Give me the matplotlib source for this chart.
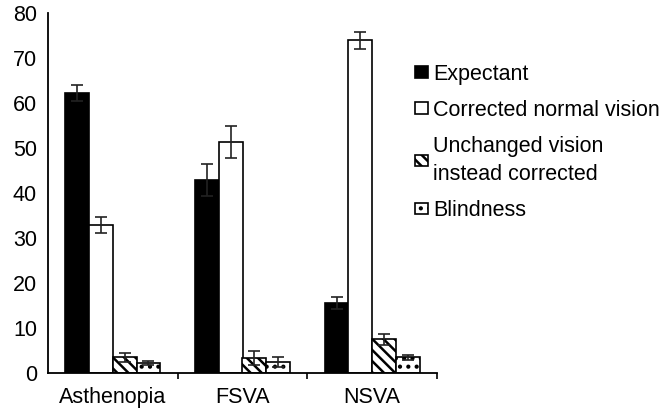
import numpy as np
import matplotlib
matplotlib.use("Agg")
import matplotlib.pyplot as plt
from matplotlib.patches import Patch

plt.rcParams['font.family'] = ['Liberation Sans', 'DejaVu Sans']
plt.rcParams['hatch.linewidth'] = 1.8

# data
groups = ["Asthenopia", "FSVA", "NSVA"]
series = ["Expectant", "Corrected normal vision",
          "Unchanged vision\ninstead corrected", "Blindness"]
expectant = [62.2, 42.8, 15.5]
expectant_err = [1.8, 3.5, 1.4]
corrected = [32.8, 51.3, 73.9]
corrected_err = [1.7, 3.5, 1.9]
unchanged = [3.4, 3.3, 7.4]
unchanged_err = [1.0, 1.5, 1.2]
blindness = [2.1, 2.4, 3.4]
blindness_err = [0.4, 1.1, 0.6]

vals = [expectant, corrected, unchanged, blindness]
errs = [expectant_err, corrected_err, unchanged_err, blindness_err]
faces = ["black", "white", "white", "white"]
hatches = [None, None, "\\\\\\", ".."]

fig = plt.figure(figsize=(6.68, 4.18), dpi=100)
ax = fig.add_axes([48/668, (418-372.7)/418, (437-48)/668, 360/418])

x = np.arange(len(groups))
w = 0.183
for i in range(4):
    ax.bar(x + (i - 1.5)*w, vals[i], w, color=faces[i], edgecolor="black",
           linewidth=1.2, hatch=hatches[i], label=series[i],
           yerr=errs[i], capsize=4.3,
           error_kw=dict(elinewidth=1.2, capthick=1.2, ecolor="#222222"))

ax.set_xlim(-0.5, 2.5)
ax.set_ylim(0, 80)
ax.set_yticks(range(0, 81, 10))
ax.tick_params(axis="y", length=0, pad=8, labelsize=15.5)
ax.set_xticks(x)
ax.set_xticklabels(groups, fontsize=15.5)
ax.tick_params(axis="x", which="major", length=0, pad=10)
ax.set_xticks([0.5, 1.5, 2.5], minor=True)
ax.tick_params(axis="x", which="minor", length=4, width=1.2, direction="out")
for s in ["top", "right"]:
    ax.spines[s].set_visible(False)
ax.spines["left"].set_linewidth(1.3)
ax.spines["bottom"].set_linewidth(1.3)

handles = [Patch(facecolor=faces[i], edgecolor="black", hatch=hatches[i],
                 linewidth=1.2) for i in range(4)]
leg = fig.legend(handles, series, loc="upper left",
                 bbox_to_anchor=(406/668, 1-55/418),
                 frameon=False, fontsize=15.5, handlelength=0.62, handleheight=0.45,
                 handletextpad=0.25, labelspacing=0.7, borderaxespad=0)
for t in leg.get_texts():
    t.set_linespacing(1.45)

fig.savefig("out.png", dpi=100)
